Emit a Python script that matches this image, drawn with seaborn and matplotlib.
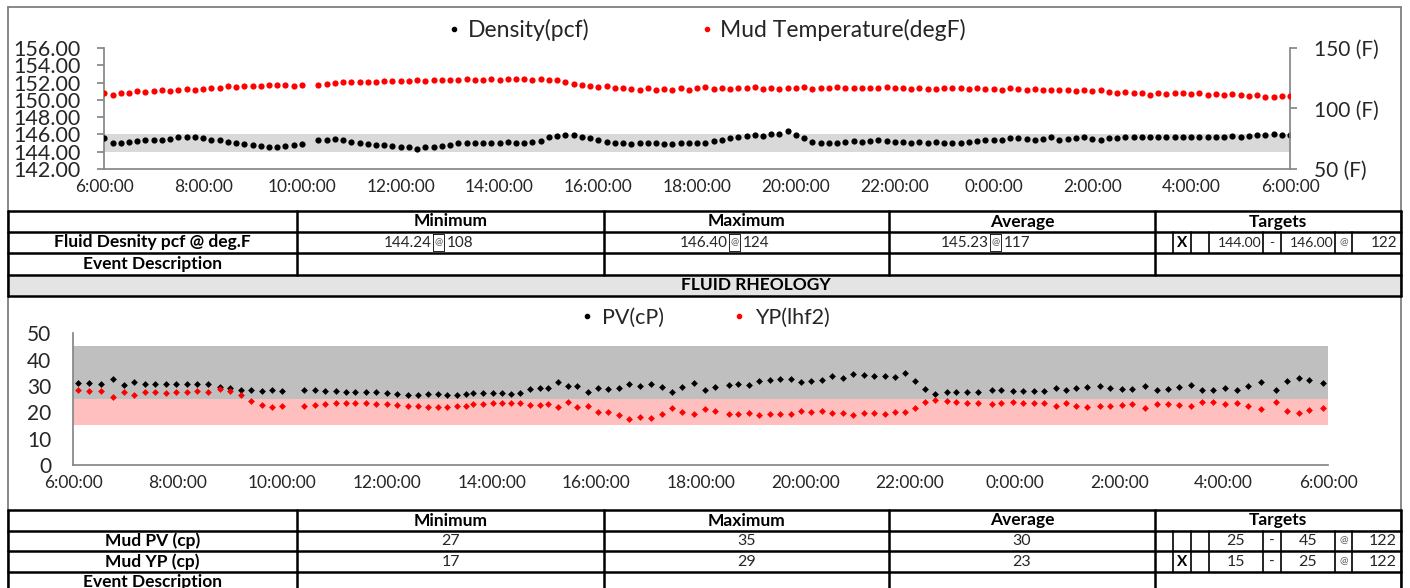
import matplotlib
matplotlib.use("Agg")
import matplotlib.pyplot as plt
import matplotlib.dates as mdates
from matplotlib.lines import Line2D
from matplotlib.ticker import FuncFormatter
import pandas as pd
import seaborn as sns

sns.set_theme(style="white")
plt.rcParams['font.family'] = ['Lato', 'DejaVu Sans']

# ---------------- data: mud density / temperature (top chart) ----------------
dens_times = [
    "06:00", "06:10", "06:20", "06:30", "06:40", "06:50",
    "07:00", "07:10", "07:20", "07:30", "07:40", "07:50",
    "08:00", "08:10", "08:20", "08:30", "08:40", "08:50",
    "09:00", "09:10", "09:20", "09:30", "09:40", "09:50",
    "10:00", "10:20", "10:30", "10:40", "10:50",
    "11:00", "11:10", "11:20", "11:30", "11:40", "11:50",
    "12:00", "12:10", "12:20", "12:30", "12:40", "12:50",
    "13:00", "13:10", "13:20", "13:30", "13:40", "13:50",
    "14:00", "14:10", "14:20", "14:30", "14:40", "14:50",
    "15:00", "15:10", "15:20", "15:30", "15:40", "15:50",
    "16:00", "16:10", "16:20", "16:30", "16:40", "16:50",
    "17:00", "17:10", "17:20", "17:30", "17:40", "17:50",
    "18:00", "18:10", "18:20", "18:30", "18:40", "18:50",
    "19:00", "19:10", "19:20", "19:30", "19:40", "19:50",
    "20:00", "20:10", "20:20", "20:30", "20:40", "20:50",
    "21:00", "21:10", "21:20", "21:30", "21:40", "21:50",
    "22:00", "22:10", "22:20", "22:30", "22:40", "22:50",
    "23:00", "23:10", "23:20", "23:30", "23:40", "23:50",
    "00:00", "00:10", "00:20", "00:30", "00:40", "00:50",
    "01:00", "01:10", "01:20", "01:30", "01:40", "01:50",
    "02:00", "02:10", "02:20", "02:30", "02:40", "02:50",
    "03:00", "03:10", "03:20", "03:30", "03:40", "03:50",
    "04:00", "04:10", "04:20", "04:30", "04:40", "04:50",
    "05:00", "05:10", "05:20", "05:30", "05:40", "05:50",
    "06:00",
]
density_pcf = [
    145.54, 145.04, 145.00, 145.15, 145.27, 145.35,
    145.35, 145.40, 145.50, 145.70, 145.70, 145.65,
    145.55, 145.40, 145.35, 145.15, 144.96, 144.90,
    144.77, 144.65, 144.60, 144.60, 144.70, 144.77,
    144.88, 145.35, 145.40, 145.50, 145.35,
    145.15, 144.96, 144.90, 144.77, 144.77, 144.65,
    144.60, 144.50, 144.30, 144.50, 144.60, 144.70,
    144.77, 144.96, 144.96, 144.96, 145.00, 145.04,
    145.04, 145.15, 144.96, 145.04, 145.15, 145.27,
    145.65, 145.80, 145.90, 145.90, 145.70, 145.54,
    145.35, 145.15, 145.04, 144.96, 144.90, 144.96,
    144.96, 145.04, 144.90, 144.90, 144.96, 145.04,
    144.96, 145.04, 145.27, 145.40, 145.60, 145.70,
    145.80, 145.90, 145.80, 146.10, 146.04, 146.40,
    145.90, 145.54, 145.15, 145.04, 144.96, 145.04,
    145.15, 145.27, 145.15, 145.27, 145.35, 145.27,
    145.15, 145.15, 145.04, 145.15, 145.04, 145.15,
    145.04, 144.96, 145.04, 145.15, 145.27, 145.35,
    145.35, 145.35, 145.54, 145.54, 145.42, 145.35,
    145.42, 145.65, 145.35, 145.42, 145.54, 145.65,
    145.42, 145.35, 145.54, 145.54, 145.65, 145.70,
    145.65, 145.70, 145.65, 145.70, 145.70, 145.65,
    145.70, 145.70, 145.65, 145.70, 145.70, 145.80,
    145.70, 145.80, 145.90, 145.90, 146.10, 145.90,
    145.90,
]
mud_temp_F = [
    113.2, 111.5, 112.9, 112.9, 114.6, 113.7,
    114.6, 115.1, 114.6, 115.7, 116.5, 115.7,
    116.5, 117.3, 117.0, 118.4, 117.9, 118.7,
    119.0, 118.4, 119.2, 119.2, 119.8, 119.0,
    119.8, 119.2, 120.6, 121.2, 122.0,
    121.7, 122.0, 122.0, 122.0, 122.5, 122.5,
    122.8, 122.5, 123.4, 122.8, 123.4, 123.4,
    123.4, 123.9, 124.2, 123.4, 123.9, 124.5,
    123.9, 124.5, 124.7, 124.2, 123.9, 124.5,
    123.9, 123.9, 122.0, 120.1, 119.2, 118.4,
    117.9, 118.4, 117.3, 117.3, 116.5, 115.7,
    116.8, 115.7, 116.5, 115.7, 117.3, 115.7,
    116.8, 117.9, 116.2, 117.3, 116.5, 117.3,
    116.8, 117.9, 116.2, 117.3, 116.2, 117.3,
    116.8, 117.9, 116.5, 117.3, 116.8, 117.9,
    117.3, 116.8, 117.3, 117.3, 116.8, 117.9,
    116.8, 117.3, 116.2, 117.3, 116.5, 116.5,
    117.3, 116.8, 117.3, 116.2, 117.0, 116.5,
    116.5, 115.7, 116.8, 116.0, 115.7, 116.2,
    115.7, 115.1, 115.7, 115.1, 114.6, 115.1,
    114.6, 115.1, 113.7, 112.9, 113.7, 112.9,
    112.4, 111.0, 112.4, 111.8, 112.9, 112.4,
    111.8, 112.4, 111.0, 111.8, 111.0, 111.8,
    111.0, 110.2, 111.0, 109.6, 109.1, 110.2,
    110.4,
]

# ---------------- data: rheology (lower chart) ----------------
rheo_times = [
    "06:05", "06:18", "06:32", "06:45", "06:58", "07:10", "07:22", "07:34", "07:46", "07:58",
    "08:10", "08:22", "08:34", "08:48", "09:00", "09:12", "09:24", "09:36", "09:48", "10:00",
    "10:25", "10:37", "10:49", "11:01", "11:13", "11:23", "11:36", "11:47", "12:00", "12:11",
    "12:24", "12:35", "12:47", "12:58", "13:09", "13:20", "13:31",
    "13:39", "13:50", "14:01", "14:12", "14:22", "14:33", "14:44", "14:55", "15:05", "15:16",
    "15:28", "15:38", "15:50", "16:02", "16:14", "16:26", "16:38", "16:50", "17:03", "17:15",
    "17:27", "17:39", "17:52", "18:05", "18:16", "18:32", "18:43", "18:55", "19:07", "19:19",
    "19:31", "19:43", "19:55", "20:07", "20:19", "20:31", "20:43", "20:55", "21:07", "21:19",
    "21:31", "21:43", "21:54", "22:06", "22:17", "22:29",
    "22:42", "22:53", "23:06", "23:18", "23:34", "23:45", "23:58", "00:10", "00:22", "00:34",
    "00:47", "00:59", "01:11", "01:23", "01:38", "01:50", "02:03", "02:15", "02:30", "02:43",
    "02:56", "03:09", "03:22", "03:35", "03:48", "04:01", "04:15", "04:28", "04:43", "05:00",
    "05:13", "05:26", "05:38", "05:54",
]
pv_cP = [
    31.0, 31.0, 30.6, 32.5, 30.5, 31.5, 30.8, 30.6, 30.8, 30.8,
    30.8, 30.8, 30.8, 29.5, 29.1, 28.5, 28.4, 28.2, 28.5, 28.2,
    28.5, 28.4, 28.2, 28.1, 27.7, 27.7, 27.7, 27.6, 27.2, 27.0,
    26.5, 26.5, 27.0, 26.8, 26.6, 26.7, 27.1,
    27.2, 27.2, 27.2, 27.5, 27.1, 27.5, 28.7, 29.1, 29.2, 31.6,
    29.9, 30.0, 27.7, 29.2, 28.9, 29.2, 30.9, 30.1, 30.9, 29.6,
    27.7, 29.6, 31.1, 28.4, 29.5, 30.4, 30.9, 30.3, 32.0, 32.4,
    32.7, 32.5, 31.6, 32.0, 32.3, 33.7, 33.2, 34.4, 34.2, 33.8,
    33.9, 33.4, 35.1, 32.0, 29.0, 27.0,
    27.6, 27.6, 27.8, 27.8, 28.4, 28.4, 28.1, 28.2, 28.0, 28.2,
    29.2, 28.6, 29.4, 29.5, 29.9, 29.4, 28.9, 28.7, 30.1, 28.5,
    28.7, 29.5, 30.4, 28.5, 28.5, 29.1, 28.5, 29.9, 31.4, 28.4,
    31.8, 32.9, 32.4, 31.0,
]
yp_lhf2 = [
    28.4, 28.2, 28.0, 25.7, 27.7, 26.7, 27.7, 27.7, 27.5, 27.7,
    27.8, 28.2, 27.7, 28.9, 28.2, 26.6, 24.2, 22.9, 22.2, 22.3,
    22.5, 22.9, 23.3, 23.4, 23.7, 23.4, 23.7, 23.2, 23.0, 22.8,
    22.5, 22.4, 22.0, 22.0, 22.2, 22.5, 22.4,
    23.3, 23.3, 23.7, 23.4, 23.7, 23.4, 22.7, 22.8, 23.3, 21.9,
    23.8, 21.9, 22.5, 20.0, 20.0, 18.9, 17.5, 18.2, 17.8, 19.2,
    21.8, 20.3, 19.2, 21.4, 20.4, 19.2, 19.2, 19.9, 19.1, 19.2,
    19.5, 19.5, 20.5, 20.0, 20.5, 19.6, 19.9, 19.0, 19.6, 19.6,
    19.5, 20.1, 20.1, 21.5, 24.1, 24.7,
    24.3, 23.8, 23.4, 23.5, 23.3, 23.4, 23.8, 23.4, 23.7, 23.5,
    22.3, 23.5, 22.5, 22.0, 22.4, 22.4, 22.9, 23.0, 21.8, 23.3,
    23.2, 22.7, 22.3, 23.8, 23.8, 23.0, 23.4, 22.5, 21.3, 23.8,
    20.6, 19.9, 20.8, 21.6,
]

density_target = [144.0, 146.0]
pv_target = [25, 45]
yp_target = [15, 25]
density_ticks = [142, 144, 146, 148, 150, 152, 154, 156]
temp_ticks = [50, 100, 150]
rheo_ticks = [0, 10, 20, 30, 40, 50]

stat_headers = ["Minimum", "Maximum", "Average", "Targets"]
density_stats = [("144.24", "108"), ("146.40", "124"), ("145.23", "117")]
density_target_text = ["144.00", "146.00", "122"]
pv_stats = ["27", "35", "30"]
yp_stats = ["17", "29", "23"]
pv_target_text = ["25", "45", "122"]
yp_target_text = ["15", "25", "122"]


def to_datetimes(times):
    out, day, prev = [], 0, None
    for t in times:
        h, m = map(int, t.split(":"))
        mins = h * 60 + m
        if prev is not None and mins < prev:
            day += 1
        prev = mins
        out.append(pd.Timestamp(2000, 1, 1) + pd.Timedelta(days=day, minutes=mins))
    return out


top_df = pd.DataFrame({"time": to_datetimes(dens_times),
                       "density": density_pcf, "temp": mud_temp_F})
rheo_df = pd.DataFrame({"time": to_datetimes(rheo_times), "pv": pv_cP, "yp": yp_lhf2})

# ---------------- figure ----------------
W, H = 1410, 588
fig = plt.figure(figsize=(W / 100, H / 100), dpi=100)
fig.patch.set_facecolor("white")

AXC = "#868686"
TXT = "#262626"
t0 = pd.Timestamp(2000, 1, 1, 6, 0)
t1 = pd.Timestamp(2000, 1, 2, 6, 0)


def fax(x0, y0, x1, y1):
    return [x0 / W, 1 - y1 / H, (x1 - x0) / W, (y1 - y0) / H]


def style_time_axis(ax, fs):
    ax.set_xlim(t0, t1)
    ax.xaxis.set_major_locator(mdates.HourLocator(byhour=range(0, 24, 2)))
    ax.xaxis.set_minor_locator(mdates.HourLocator())
    ax.xaxis.set_major_formatter(FuncFormatter(lambda v, p: f"{mdates.num2date(v).hour}:00:00"))
    ax.tick_params(axis="x", which="both", length=5, width=1, color=AXC, direction="out",
                   labelsize=fs, labelcolor=TXT, pad=2)


# ---- top chart ----
ax = fig.add_axes(fax(104.3, 48, 1290, 169))
ax.axhspan(density_target[0], density_target[1], color="#d9d9d9", lw=0, zorder=0)
sns.scatterplot(data=top_df, x="time", y="density", color="black", s=20, linewidth=0,
                marker="o", ax=ax, legend=False, zorder=3)
ax.set_ylim(142, 156)
ax.set_yticks(density_ticks)
ax.set_yticklabels([f"{v:.2f}" for v in density_ticks])
ax.tick_params(axis="y", length=5, color=AXC, direction="out", labelsize=15.5,
               labelcolor=TXT, pad=12)
style_time_axis(ax, 12.5)
ax.set_xlabel(""); ax.set_ylabel("")
for s in ["top", "right"]:
    ax.spines[s].set_visible(False)
for s in ["left", "bottom"]:
    ax.spines[s].set_color(AXC)
ax.patch.set_alpha(0)

ax2 = ax.twinx()
sns.scatterplot(data=top_df, x="time", y="temp", color="#ff0000", s=20, linewidth=0,
                marker="o", ax=ax2, legend=False, zorder=3)
ax2.set_ylim(50, 150)
ax2.set_yticks(temp_ticks)
ax2.set_yticklabels([f"{v} (F)" for v in temp_ticks])
ax2.tick_params(axis="y", length=5, color=AXC, direction="out", labelsize=15,
                labelcolor=TXT, pad=12)
ax2.set_ylabel("")
for s in ["top", "left", "bottom"]:
    ax2.spines[s].set_visible(False)
ax2.spines["right"].set_color(AXC)
ax2.set_xlim(t0, t1)

h1 = Line2D([], [], marker="o", ls="", color="black", markersize=3)
h2 = Line2D([], [], marker="o", ls="", color="#ff0000", markersize=3)
fig.legend([h1, h2], ["Density(pcf)", "Mud Temperature(degF)"], loc="center",
           bbox_to_anchor=(708 / W, 1 - 30 / H), ncol=2, frameon=False, fontsize=16.5,
           handlelength=0.4, handletextpad=0.4, columnspacing=4.9, labelcolor=TXT)

# ---- lower chart ----
bx = fig.add_axes(fax(73.3, 333.3, 1328.3, 465))
bx.axhspan(pv_target[0], pv_target[1], color="#bfbfbf", lw=0, zorder=0)
bx.axhspan(yp_target[0], yp_target[1], color="#ffbfbf", lw=0, zorder=0)
sns.scatterplot(data=rheo_df, x="time", y="pv", color="black", s=12, linewidth=0,
                marker="D", ax=bx, legend=False, zorder=3)
sns.scatterplot(data=rheo_df, x="time", y="yp", color="#ff0000", s=12, linewidth=0,
                marker="D", ax=bx, legend=False, zorder=3)
bx.set_ylim(0, 50)
bx.set_yticks(rheo_ticks)
bx.tick_params(axis="y", length=5, color=AXC, direction="out", labelsize=15,
               labelcolor=TXT, pad=11)
style_time_axis(bx, 12.5)
bx.set_xlabel(""); bx.set_ylabel("")
for s in ["top", "right"]:
    bx.spines[s].set_visible(False)
for s in ["left", "bottom"]:
    bx.spines[s].set_color(AXC)
bx.patch.set_alpha(0)

fig.legend([h1, h2], ["PV(cP)", "YP(lhf2)"], loc="center",
           bbox_to_anchor=(706 / W, 1 - 318 / H), ncol=2, frameon=False, fontsize=15.5,
           handlelength=0.4, handletextpad=0.5, columnspacing=3.3, labelcolor=TXT)

# ---- tables / frame (overlay in pixel coordinates) ----
ov = fig.add_axes([0, 0, 1, 1], zorder=-1)
ov.set_xlim(0, W); ov.set_ylim(H, 0); ov.axis("off")

L, R = 8, 1401
ov.plot([L, L], [7, H], color="#7f7f7f", lw=1.3)
ov.plot([R, R], [7, H], color="#7f7f7f", lw=1.3)
ov.plot([L, R], [7, 7], color="#7f7f7f", lw=1.3)

ov.add_patch(plt.Rectangle((L, 275), R - L, 21, facecolor="#e4e4e4", edgecolor="none"))

cols = [297, 604, 889, 1155]
sub = [1173, 1191, 1209, 1263, 1281, 1335, 1352]
LW = 1.8


def hline(y):
    ov.plot([L, R], [y, y], color="black", lw=LW)


def vline(x, y0, y1, lw=LW):
    ov.plot([x, x], [y0, y1], color="black", lw=lw)


for y in [211, 232, 253, 275, 296]:
    hline(y)
for x in [L, R]:
    vline(x, 211, 296)
for x in cols:
    vline(x, 211, 275)
for x in sub:
    vline(x, 232, 253, 1.2)

for y in [510, 531, 551, 572]:
    hline(y)
for x in [L, R]:
    vline(x, 510, H)
for x in cols:
    vline(x, 510, H)
for x in sub:
    vline(x, 531, 572, 1.2)

centers = [450.5, 746.5, 1022, 1278]
BF = 12.5
for yh in [221.5, 520.5]:
    for c, t in zip(centers, stat_headers):
        ov.text(c, yh, t, ha="center", va="center", fontsize=BF, fontweight="bold", color="black")

ov.text(152.5, 242.5, "Fluid Desnity pcf @ deg.F", ha="center", va="center",
        fontsize=BF, fontweight="bold", color="black")
ov.text(152.5, 264, "Event Description", ha="center", va="center",
        fontsize=BF, fontweight="bold", color="black")
ov.text(756, 285.5, "FLUID RHEOLOGY", ha="center", va="center",
        fontsize=BF, fontweight="bold", color="black")

at_boxes = [(433, 444), (729, 740), (990, 1001)]
for (v, tmp), (a0, a1) in zip(density_stats, at_boxes):
    ov.text(a0 - 1, 243, v, ha="right", va="center", fontsize=11, color=TXT)
    ov.plot([a0, a0, a1, a1, a0], [234, 251, 251, 234, 234], color="black", lw=0.6)
    ov.text((a0 + a1) / 2, 243, "@", ha="center", va="center", fontsize=7, color="#555555")
    ov.text(a1 + 3, 243, tmp, ha="left", va="center", fontsize=11, color=TXT)

ov.text(1182, 243, "X", ha="center", va="center", fontsize=11, fontweight="bold", color="black")
ov.text(1261, 243, density_target_text[0], ha="right", va="center", fontsize=10, color=TXT)
ov.text(1272, 243, "-", ha="center", va="center", fontsize=10, color=TXT)
ov.text(1333, 243, density_target_text[1], ha="right", va="center", fontsize=10, color=TXT)
ov.text(1343.5, 243, "@", ha="center", va="center", fontsize=7.5, color="#555555")
ov.text(1397, 243, density_target_text[2], ha="right", va="center", fontsize=11, color=TXT)

for y, lab, stats, tgt, mark in [(541, "Mud PV (cp)", pv_stats, pv_target_text, ""),
                                 (561.5, "Mud YP (cp)", yp_stats, yp_target_text, "X")]:
    ov.text(152.5, y, lab, ha="center", va="center", fontsize=BF, fontweight="bold", color="black")
    for c, v in zip(centers[:3], stats):
        ov.text(c, y, v, ha="center", va="center", fontsize=11.5, color=TXT)
    if mark:
        ov.text(1182, y, mark, ha="center", va="center", fontsize=11, fontweight="bold", color="black")
    ov.text(1236, y, tgt[0], ha="center", va="center", fontsize=11.5, color=TXT)
    ov.text(1272, y, "-", ha="center", va="center", fontsize=11, color=TXT)
    ov.text(1308, y, tgt[1], ha="center", va="center", fontsize=11.5, color=TXT)
    ov.text(1343.5, y, "@", ha="center", va="center", fontsize=7.5, color="#555555")
    ov.text(1397, y, tgt[2], ha="right", va="center", fontsize=11.5, color=TXT)

ov.text(152.5, 582, "Event Description", ha="center", va="center",
        fontsize=BF, fontweight="bold", color="black")

fig.savefig("out.png", dpi=100, facecolor="white")
